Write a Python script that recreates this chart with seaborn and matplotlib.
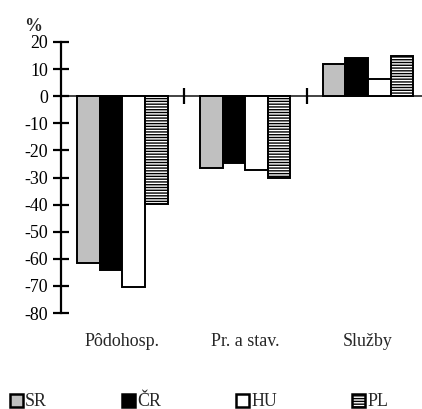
import matplotlib
matplotlib.use("Agg")
import matplotlib.pyplot as plt
from matplotlib.patches import Patch
import seaborn as sns
import pandas as pd

categories = ["Pôdohosp.", "Pr. a stav.", "Služby"]
countries = ["SR", "ČR", "HU", "PL"]
sr = [-61.5, -26.6, 11.9]
cr = [-64.0, -24.5, 14.1]
hu = [-70.5, -27.2, 6.4]
pl = [-39.8, -30.3, 14.7]
yticks = list(range(-80, 21, 10))

sns.set_style("white")
plt.rcParams["font.family"] = ["Liberation Serif", "DejaVu Serif"]
plt.rcParams["font.size"] = 12.9
plt.rcParams["axes.unicode_minus"] = False
plt.rcParams["hatch.color"] = "black"
plt.rcParams["hatch.linewidth"] = 1.0

rows = []
for c, vals in zip(countries, [sr, cr, hu, pl]):
    for cat, v in zip(categories, vals):
        rows.append({"cat": cat, "country": c, "val": v})
df = pd.DataFrame(rows)

colors = ["#c0c0c0", "#000000", "#ffffff", "#ffffff"]
hatches = [None, None, None, "------"]

fig = plt.figure(figsize=(4.22, 4.09), dpi=100)
ax = fig.add_axes([61 / 422, (409 - 313) / 409, 1 - 61 / 422, 271 / 409])

sns.barplot(data=df, x="cat", y="val", hue="country", hue_order=countries,
            order=categories, palette=colors, saturation=1, width=0.735,
            edgecolor="black", linewidth=1.4, legend=False, ax=ax, errorbar=None)

for cont, h in zip(ax.containers, hatches):
    if h:
        for p in cont.patches:
            p.set_hatch(h)

ax.set_xlim(-0.5, 2.44)
ax.set_ylim(-80, 20)
ax.set_xlabel("")
ax.set_ylabel("")
for s in ["top", "right"]:
    ax.spines[s].set_visible(False)
ax.spines["left"].set_linewidth(1.6)
ax.spines["left"].set_color("black")
ax.spines["bottom"].set_position(("data", 0))
ax.spines["bottom"].set_linewidth(1.2)
ax.spines["bottom"].set_color("#222222")
ax.spines["bottom"].set_zorder(0.5)

ax.set_yticks(yticks)
ax.set_yticklabels([str(t) for t in yticks])
ax.tick_params(axis="y", direction="inout", length=11, width=1.6, pad=4, colors="black", left=True)
ax.set_xticks([0.5, 1.5])
ax.set_xticklabels(["", ""])
ax.tick_params(axis="x", direction="inout", length=11, width=1.6, bottom=True, colors="black")

for i, cat in enumerate(categories):
    ax.annotate(cat, xy=(i, 0), xycoords=("data", "axes fraction"),
                xytext=(0, -33 * 0.72), textcoords="offset points",
                ha="center", va="baseline")

fig.text(33 / 422, 1 - 31 / 409, "%", ha="center", va="baseline", fontweight="bold")

handles = [Patch(facecolor=c, edgecolor="black", linewidth=1.8, hatch=h)
           for c, h in zip(colors, ["", "", "", "------"])]
fig.legend(handles, countries, loc="center left", bbox_to_anchor=(10 / 422, 1 - 402 / 409),
           ncol=4, frameon=False, borderpad=0, handlelength=0.72, handleheight=0.72,
           handletextpad=0.12, columnspacing=4.2, borderaxespad=0)

fig.savefig("out.png", dpi=100)
